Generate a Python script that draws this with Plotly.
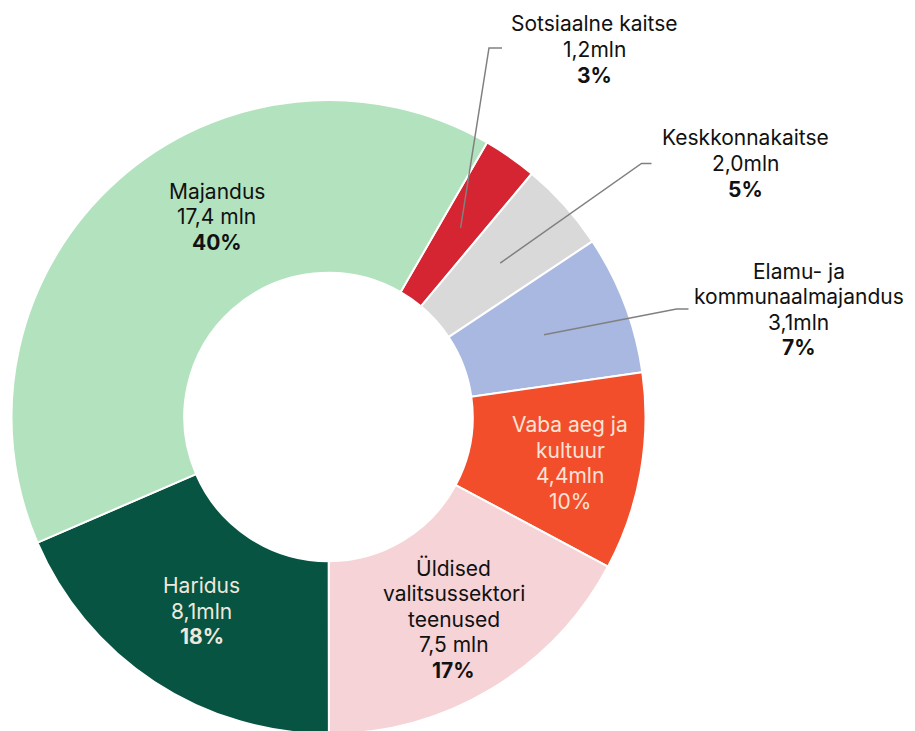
import math
import plotly.graph_objects as go

# ---------------- data ----------------
categories = [
    "Sotsiaalne kaitse",
    "Keskkonnakaitse",
    "Elamu- ja|kommunaalmajandus",
    "Vaba aeg ja|kultuur",
    "Üldised|valitsussektori|teenused",
    "Haridus",
    "Majandus",
]
values = [1.2, 2.0, 3.1, 4.4, 7.5, 8.1, 17.4]
value_labels = ["1,2mln", "2,0mln", "3,1mln", "4,4mln", "7,5 mln", "8,1mln", "17,4 mln"]
pct_labels = ["3%", "5%", "7%", "10%", "17%", "18%", "40%"]

# ---------------- styles ----------------
colors = ["#D52532", "#D9D9D9", "#A9B8E0", "#F24E2B", "#F6D3D6", "#075443", "#B3E2BE"]
text_colors = ["#111111", "#111111", "#111111", "#FBE3D6", "#111111", "#EEE8DC", "#111111"]
pct_bold = [True, True, True, False, True, True, True]

W, H = 915, 734
M_T, M_B, M_L, M_R = 100, 0, 0, 0
DOM_X = [11.5 / 915, 645.5 / 915]
DOM_Y = [0.0, 1.0]
ROT = 30
HOLE = 0.455
FONT = "Inter, Roboto, sans-serif"
FS = 21
LINE_H = 25.6

# label block centres (px) and leader-line elbows (px)
label_pos = [
    (594.5, 49.5),
    (745.5, 163.5),
    (798.5, 309.5),
    (570.0, 463.0),
    (453.5, 619.0),
    (201.5, 611.0),
    (216.5, 217.0),
]
leader = {
    0: [(489.0, 48.0), (502.0, 48.0)],
    1: [(641.5, 163.5), (651.5, 163.5)],
    2: [(676.5, 309.0), (688.5, 309.0)],
}

# ---------------- geometry derived from domain ----------------
pw, ph = W - M_L - M_R, H - M_T - M_B
bx0, bx1 = M_L + DOM_X[0] * pw, M_L + DOM_X[1] * pw
by0, by1 = M_T + (1 - DOM_Y[1]) * ph, M_T + (1 - DOM_Y[0]) * ph
R = min(bx1 - bx0, by1 - by0) / 2
CX, CY = (bx0 + bx1) / 2, (by0 + by1) / 2
R_MID = R * (1 + HOLE) / 2


def to_paper(px, py):
    return (px - M_L) / pw, (H - M_B - py) / ph


fig = go.Figure(
    go.Pie(
        labels=[c.replace("|", " ") for c in categories],
        values=values,
        hole=HOLE,
        sort=False,
        direction="clockwise",
        rotation=ROT,
        textinfo="none",
        marker=dict(colors=colors, line=dict(color="white", width=2)),
        domain=dict(x=DOM_X, y=DOM_Y),
        showlegend=False,
    )
)

annotations = []
shapes = []
total = sum(values)
cum = 0.0
for i, (cat, v) in enumerate(zip(categories, values)):
    pct = f"<b>{pct_labels[i]}</b>" if pct_bold[i] else pct_labels[i]
    lines = cat.split("|") + [value_labels[i], pct]
    lx, ly = label_pos[i]
    n = len(lines)
    for j, line in enumerate(lines):
        yy = ly + (j - (n - 1) / 2) * LINE_H
        ax, ay = to_paper(lx, yy)
        annotations.append(
            dict(
                x=ax, y=ay, xref="paper", yref="paper", text=line, showarrow=False,
                xanchor="center", yanchor="middle", align="center",
                font=dict(family=FONT, size=FS, color=text_colors[i]),
            )
        )
    mid = ROT + (cum + v / 2) / total * 360
    cum += v
    if i in leader:
        a = math.radians(mid)
        sx, sy = CX + R_MID * math.sin(a), CY - R_MID * math.cos(a)
        pts = [(sx, sy)] + leader[i]
        pp = [to_paper(*p) for p in pts]
        path = "M " + " L ".join(f"{x},{y}" for x, y in pp)
        shapes.append(
            dict(type="path", path=path, xref="paper", yref="paper",
                 line=dict(color="#808080", width=1.5))
        )

fig.update_layout(
    width=W, height=H,
    margin=dict(l=M_L, r=M_R, t=M_T, b=M_B),
    paper_bgcolor="white", plot_bgcolor="white",
    annotations=annotations, shapes=shapes,
    font=dict(family=FONT, size=FS),
)

fig.write_html(
    "out.html",
    config={"displayModeBar": False},
    post_script=(
        "document.body.style.margin='0';"
        "document.body.style.overflow='hidden';"
        "document.documentElement.style.overflow='hidden';"
    ),
)
